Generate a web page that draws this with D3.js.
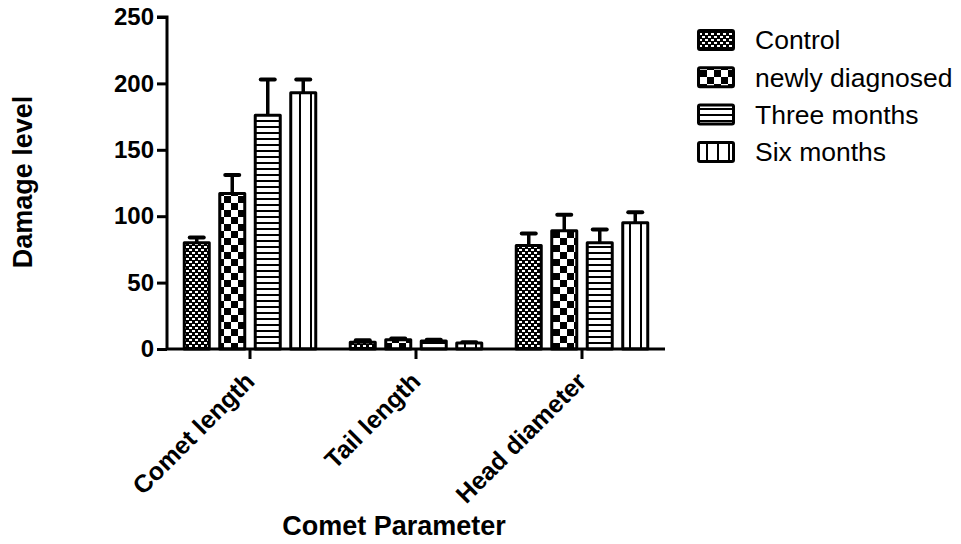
<!DOCTYPE html>
<html><head><meta charset="utf-8">
<script src="https://cdn.jsdelivr.net/npm/d3@7"></script>
<style>body{margin:0;background:#fff}svg{display:block}text{font-family:"Liberation Sans",Arial,sans-serif}</style>
</head><body>
<svg id="chart" width="961" height="544"></svg>
<script>
const categories = ["Comet length", "Tail length", "Head diameter"];
const seriesNames = ["Control", "newly diagnosed", "Three months", "Six months"];
const means = {
  "Control":         [80, 5, 78],
  "newly diagnosed": [117, 7, 89],
  "Three months":    [176, 6, 80],
  "Six months":      [193, 4.5, 95]
};
const upperErr = {
  "Control":         [84, 6.5, 87],
  "newly diagnosed": [131, 8, 101],
  "Three months":    [203, 7, 90],
  "Six months":      [203, 5, 103]
};
const yTicks = [0, 50, 100, 150, 200, 250];

const svg = d3.select("#chart");
const defs = svg.append("defs");
// patterns
let p = defs.append("pattern").attr("id","pat0").attr("patternUnits","userSpaceOnUse").attr("width",6).attr("height",6);
p.append("rect").attr("width",6).attr("height",6).attr("fill","#000");
p.append("rect").attr("x",0).attr("y",0).attr("width",3).attr("height",2).attr("fill","#fff");
p.append("rect").attr("x",3).attr("y",3).attr("width",3).attr("height",2).attr("fill","#fff");
p = defs.append("pattern").attr("id","pat1").attr("patternUnits","userSpaceOnUse").attr("width",14).attr("height",14);
p.append("rect").attr("width",14).attr("height",14).attr("fill","#fff");
p.append("rect").attr("x",0).attr("y",0).attr("width",7).attr("height",7).attr("fill","#000");
p.append("rect").attr("x",7).attr("y",7).attr("width",7).attr("height",7).attr("fill","#000");
p = defs.append("pattern").attr("id","pat2").attr("patternUnits","userSpaceOnUse").attr("width",6).attr("height",6);
p.append("rect").attr("width",6).attr("height",6).attr("fill","#fff");
p.append("rect").attr("x",0).attr("y",0).attr("width",6).attr("height",2).attr("fill","#000");
p = defs.append("pattern").attr("id","pat3").attr("patternUnits","userSpaceOnUse").attr("width",11).attr("height",11);
p.append("rect").attr("width",11).attr("height",11).attr("fill","#fff");
p.append("rect").attr("x",2).attr("y",0).attr("width",2).attr("height",11).attr("fill","#000");

const y = d3.scaleLinear().domain([0,250]).range([349,17]);
const x0 = d3.scaleBand().domain(categories).range([167,665]).paddingInner(0).paddingOuter(0);
const groupW = 134.5;
const x1 = d3.scaleBand().domain(seriesNames).range([0,groupW]).paddingInner(0.211).paddingOuter(0);
const sw = 3;

const g = svg.append("g");
categories.forEach((cat, ci) => {
  const gx = x0(cat) + x0.bandwidth()/2 - groupW/2;
  seriesNames.forEach((s, si) => {
    const bx = gx + x1(s);
    const bw = x1.bandwidth();
    const cx = bx + bw/2;
    g.append("line").attr("x1",cx).attr("x2",cx).attr("y1",y(means[s][ci])).attr("y2",y(upperErr[s][ci]))
      .attr("stroke","#000").attr("stroke-width",3.5);
    g.append("line").attr("x1",cx-7).attr("x2",cx+7).attr("y1",y(upperErr[s][ci])).attr("y2",y(upperErr[s][ci]))
      .attr("stroke","#000").attr("stroke-width",4).attr("stroke-linecap","round");
    g.append("rect").attr("x",bx+sw/2).attr("width",bw-sw)
      .attr("y",y(means[s][ci])).attr("height",y(0)-y(means[s][ci]))
      .attr("fill",`url(#pat${si})`).attr("stroke","#000").attr("stroke-width",sw).attr("stroke-linejoin","round");
  });
});

// y axis
const yAxis = d3.axisLeft(y).tickValues(yTicks).tickSize(10).tickPadding(3);
const ya = svg.append("g").attr("transform","translate(167,0)").call(yAxis);
ya.select(".domain").attr("stroke-width",3).attr("d","M-10,"+y(250)+"H0V"+y(0));
ya.selectAll(".tick line").attr("stroke-width",3);
ya.selectAll(".tick text").attr("font-size",24).attr("font-weight","bold").attr("fill","#000")
  .attr("font-family","'Liberation Sans',Arial,sans-serif");

// x axis
const xAxis = d3.axisBottom(x0).tickSize(10).tickPadding(4);
const xa = svg.append("g").attr("transform","translate(0,349)").call(xAxis);
xa.select(".domain").attr("stroke-width",3).attr("d","M167,0H665");
xa.selectAll(".tick line").attr("stroke-width",3);
xa.selectAll(".tick text").attr("font-size",25).attr("font-weight","bold").attr("fill","#000")
  .attr("font-family","'Liberation Sans',Arial,sans-serif")
  .attr("text-anchor","end").attr("dy",0).attr("y",0)
  .attr("transform","translate(6,34) rotate(-45)");

// titles
svg.append("text").attr("x",394).attr("y",535).attr("text-anchor","middle")
  .attr("font-size",27).attr("font-weight","bold").text("Comet Parameter");
svg.append("text").attr("transform","translate(32,182) rotate(-90)").attr("text-anchor","middle")
  .attr("font-size",27).attr("font-weight","bold").text("Damage level");

// legend
const lg = svg.append("g");
seriesNames.forEach((s, i) => {
  const ly = 40 + i*37.3;
  lg.append("rect").attr("x",698.5).attr("y",ly-9.5).attr("width",35).attr("height",19)
    .attr("fill",`url(#pat${i})`).attr("stroke","#000").attr("stroke-width",3).attr("rx",1.5);
  lg.append("text").attr("x",755).attr("y",ly).attr("dy","0.35em").attr("font-size",26.5).text(s);
});
</script>
</body></html>
